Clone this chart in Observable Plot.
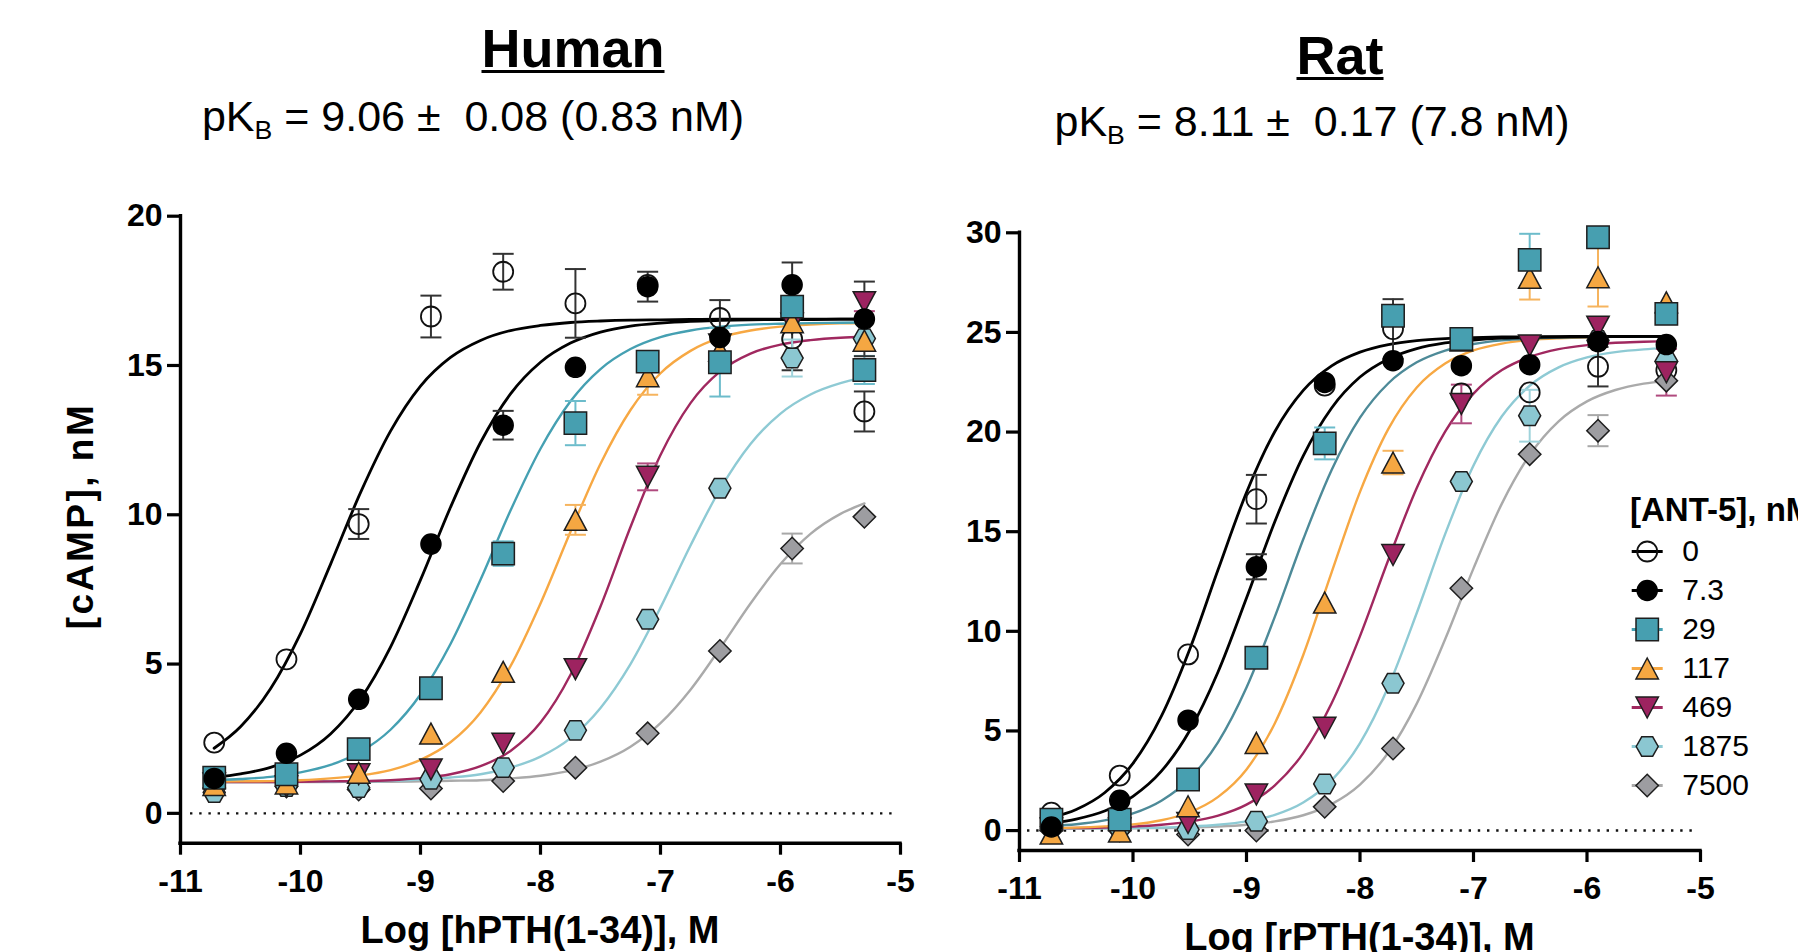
<!DOCTYPE html>
<html>
<head>
<meta charset="utf-8">
<script src="https://cdn.jsdelivr.net/npm/d3@7"></script>
<script src="https://cdn.jsdelivr.net/npm/@observablehq/plot@0.6"></script>
<style>
  html,body{margin:0;padding:0;background:#fff;}
  #root{position:relative;width:1798px;height:952px;overflow:hidden;background:#fff;font-family:"Liberation Sans",Arial,Helvetica,sans-serif;color:#000;}
  #root svg{position:absolute;overflow:visible;background:transparent;max-width:none;}
  .t{position:absolute;white-space:pre;line-height:1;}
  .sub{font-size:62%;vertical-align:-8px;}
</style>
</head>
<body>
<div id="root"></div>
<script>
// ---------- DATA ----------
const seriesLabels = ["0", "7.3", "29", "117", "469", "1875", "7500"];   // [ANT-5], nM
const concLog = [-10.719, -10.117, -9.515, -8.913, -8.311, -7.709, -7.107, -6.505, -5.903, -5.301];
const xTicks = [-11, -10, -9, -8, -7, -6, -5];
const xDomain = [-11, -5];
const humanYTicks = [0, 5, 10, 15, 20];
const humanYDomain = [-1, 20];
const ratYTicks = [0, 5, 10, 15, 20, 25, 30];
const ratYDomain = [-1, 30];

// Human: mean [cAMP] (nM)
const human_0    = [2.37, 5.16, 9.69, 16.64, 18.14, 17.08, 17.70, 16.59, 15.89, 13.46];
const human_7_3  = [1.17, 2.01, 3.82, 9.02, 13.00, 14.94, 17.64, 15.94, 17.70, 16.56];
const human_29   = [1.19, 1.31, 2.15, 4.19, 8.70, 13.07, 15.13, 15.11, 16.97, 14.85];
const human_117  = [0.95, 1.00, 1.36, 2.67, 4.74, 9.83, 14.64, 15.50, 16.45, 15.83];
const human_469  = [1.00, 0.90, 1.31, 1.47, 2.33, 4.83, 11.27, 15.70, 16.40, 17.12];
const human_1875 = [0.70, 0.90, 0.86, 1.14, 1.53, 2.78, 6.50, 10.89, 15.25, 15.90];
const human_7500 = [0.85, 0.90, 0.80, 0.83, 1.08, 1.53, 2.68, 5.44, 8.87, 9.93];
// Human: SEM
const human_0_sem    = [0, 0, 0.50, 0.70, 0.60, 1.15, 0, 0.60, 1.05, 0.67];
const human_7_3_sem  = [0, 0, 0, 0, 0.48, 0, 0.50, 0, 0.75, 1.25];
const human_29_sem   = [0, 0, 0, 0, 0.41, 0.74, 0, 1.15, 0.30, 0.47];
const human_117_sem  = [0, 0, 0, 0, 0, 0.50, 0.62, 0, 0, 0];
const human_469_sem  = [0, 0, 0, 0, 0, 0, 0.45, 0, 0, 0.30];
const human_1875_sem = [0, 0, 0, 0, 0, 0, 0, 0, 0.62, 0];
const human_7500_sem = [0, 0, 0, 0, 0, 0, 0, 0, 0.50, 0];

// Rat: mean [cAMP] (nM)
const rat_0    = [0.90, 2.76, 8.84, 16.63, 22.33, 25.17, 21.94, 21.99, 23.28, 23.10];
const rat_7_3  = [0.18, 1.52, 5.54, 13.24, 22.49, 23.58, 23.33, 23.38, 24.54, 24.39];
const rat_29   = [0.55, 0.55, 2.56, 8.67, 19.43, 25.84, 24.67, 28.64, 29.78, 25.93];
const rat_117  = [-0.15, -0.05, 1.22, 4.40, 11.44, 18.47, 24.60, 27.74, 27.77, 26.51];
const rat_469  = [0.10, 0.10, 0.38, 1.81, 5.16, 13.83, 21.41, 24.34, 25.29, 23.00];
const rat_1875 = [0.20, 0.10, 0.05, 0.47, 2.34, 7.39, 17.52, 20.82, 24.60, 23.58];
const rat_7500 = [0.00, 0.00, -0.20, 0.00, 1.19, 4.12, 12.16, 18.89, 20.07, 22.58];
// Rat: SEM
const rat_0_sem    = [0, 0, 0, 1.22, 0, 1.50, 0, 0, 0.99, 0];
const rat_7_3_sem  = [0, 0, 0, 0.63, 0, 0, 0, 0, 0, 0];
const rat_29_sem   = [0, 0, 0, 0, 0.80, 0, 0, 1.31, 0, 0.50];
const rat_117_sem  = [0, 0, 0, 0, 0, 0.59, 0, 1.09, 1.47, 0];
const rat_469_sem  = [0, 0, 0, 0, 0, 0, 0.97, 0, 0, 1.17];
const rat_1875_sem = [0, 0, 0, 0, 0, 0, 0, 1.30, 0, 0];
const rat_7500_sem = [0, 0, 0, 0, 0, 0, 0, 0, 0.78, 0];

// Fitted curves at these log concentrations
const fitX = [-10.72, -10.5, -10.25, -10, -9.75, -9.5, -9.25, -9, -8.75, -8.5, -8.25, -8, -7.75, -7.5, -7.25, -7, -6.75, -6.5, -6.25, -6, -5.75, -5.5, -5.3];
const humanFit_0    = [2.18, 2.90, 4.17, 6.02, 8.34, 10.74, 12.80, 14.31, 15.27, 15.84, 16.17, 16.34, 16.44, 16.49, 16.52, 16.53, 16.54, 16.55, 16.55, 16.55, 16.55, 16.55, 16.55];
const humanFit_7_3  = [1.20, 1.32, 1.54, 1.95, 2.66, 3.83, 5.57, 7.82, 10.25, 12.42, 14.05, 15.11, 15.75, 16.12, 16.32, 16.42, 16.48, 16.51, 16.53, 16.54, 16.54, 16.55, 16.55];
const humanFit_29   = [1.11, 1.15, 1.22, 1.37, 1.62, 2.06, 2.80, 3.98, 5.67, 7.82, 10.14, 12.21, 13.80, 14.88, 15.55, 15.95, 16.17, 16.30, 16.37, 16.40, 16.42, 16.43, 16.44];
const humanFit_117  = [1.06, 1.07, 1.08, 1.11, 1.17, 1.27, 1.45, 1.79, 2.38, 3.38, 4.93, 7.03, 9.43, 11.71, 13.51, 14.74, 15.49, 15.93, 16.17, 16.30, 16.37, 16.41, 16.42];
const humanFit_469  = [1.05, 1.05, 1.05, 1.06, 1.07, 1.08, 1.11, 1.18, 1.31, 1.58, 2.09, 3.04, 4.64, 6.93, 9.59, 12.00, 13.74, 14.81, 15.40, 15.70, 15.85, 15.93, 15.96];
const humanFit_1875 = [1.05, 1.05, 1.05, 1.06, 1.06, 1.07, 1.09, 1.13, 1.20, 1.31, 1.53, 1.90, 2.52, 3.53, 5.00, 6.89, 8.97, 10.88, 12.37, 13.39, 14.03, 14.41, 14.60];
const humanFit_7500 = [1.05, 1.05, 1.05, 1.05, 1.05, 1.06, 1.06, 1.07, 1.09, 1.11, 1.17, 1.26, 1.43, 1.73, 2.23, 3.02, 4.14, 5.55, 7.03, 8.35, 9.36, 10.03, 10.38];

const ratFit_0    = [0.65, 1.06, 1.90, 3.37, 5.74, 9.10, 13.10, 16.97, 20.03, 22.09, 23.32, 24.01, 24.39, 24.59, 24.69, 24.74, 24.77, 24.78, 24.79, 24.80, 24.80, 24.80, 24.80];
const ratFit_7_3  = [0.38, 0.58, 0.98, 1.72, 2.98, 5.02, 7.97, 11.67, 15.51, 18.81, 21.21, 22.76, 23.67, 24.19, 24.47, 24.62, 24.71, 24.75, 24.77, 24.78, 24.79, 24.80, 24.80];
const ratFit_29   = [0.23, 0.32, 0.51, 0.86, 1.50, 2.61, 4.44, 7.18, 10.74, 14.62, 18.10, 20.72, 22.45, 23.50, 24.09, 24.42, 24.60, 24.69, 24.74, 24.77, 24.78, 24.79, 24.80];
const ratFit_117  = [0.13, 0.15, 0.21, 0.31, 0.52, 0.92, 1.69, 3.07, 5.39, 8.81, 12.96, 17.00, 20.16, 22.24, 23.44, 24.10, 24.44, 24.62, 24.71, 24.76, 24.78, 24.79, 24.80];
const ratFit_469  = [0.12, 0.13, 0.15, 0.20, 0.29, 0.45, 0.75, 1.30, 2.27, 3.89, 6.39, 9.76, 13.59, 17.19, 20.02, 21.93, 23.11, 23.78, 24.16, 24.36, 24.48, 24.53, 24.56];
const ratFit_1875 = [0.10, 0.11, 0.11, 0.13, 0.15, 0.20, 0.29, 0.46, 0.79, 1.41, 2.52, 4.39, 7.23, 10.92, 14.88, 18.32, 20.79, 22.35, 23.25, 23.75, 24.01, 24.15, 24.21];
const ratFit_7500 = [0.10, 0.10, 0.11, 0.12, 0.13, 0.15, 0.20, 0.29, 0.46, 0.77, 1.33, 2.31, 3.92, 6.37, 9.60, 13.16, 16.41, 18.89, 20.54, 21.54, 22.11, 22.43, 22.57];

// ---------- STYLES ----------
const FONT = '"Liberation Sans", Arial, Helvetica, sans-serif';
function sym(fn) { return {draw(ctx, size) { fn(ctx, Math.sqrt(size / Math.PI)); }}; }
const SYM = {
  circle: sym((c, r) => { c.moveTo(r, 0); c.arc(0, 0, r, 0, 2 * Math.PI); c.closePath(); }),
  square: sym((c, r) => { const h = r * 1.12; c.rect(-h, -h, 2 * h, 2 * h); }),
  triUp: sym((c, r) => { const w = r * 1.12, h = r * 1.05; c.moveTo(0, -h); c.lineTo(w, h); c.lineTo(-w, h); c.closePath(); }),
  triDown: sym((c, r) => { const w = r * 1.12, h = r * 1.05; c.moveTo(0, h); c.lineTo(w, -h); c.lineTo(-w, -h); c.closePath(); }),
  hexagon: sym((c, r) => { const w = r * 1.1, h = r * 0.97; c.moveTo(-w, 0); c.lineTo(-w / 2, -h); c.lineTo(w / 2, -h); c.lineTo(w, 0); c.lineTo(w / 2, h); c.lineTo(-w / 2, h); c.closePath(); }),
  diamond: sym((c, r) => { const h = r * 1.12; c.moveTo(0, -h); c.lineTo(h, 0); c.lineTo(0, h); c.lineTo(-h, 0); c.closePath(); }),
  cap: sym((c, r) => { c.moveTo(-r * 1.05, 0); c.lineTo(r * 1.05, 0); }),
  seg: sym((c, r) => { c.moveTo(-r * 1.55, 0); c.lineTo(r * 1.55, 0); })
};
const seriesStyle = [
  {shape: SYM.circle,  fill: "none",    stroke: "#111", line: "#000",    lineRat: "#000",    err: "#333"},
  {shape: SYM.circle,  fill: "#000",    stroke: "#000", line: "#000",    lineRat: "#000",    err: "#333"},
  {shape: SYM.square,  fill: "#479fb0", stroke: "#1e1e1e", line: "#45a0b2", lineRat: "#4d8a98", err: "#6cbccb"},
  {shape: SYM.triUp,   fill: "#f5a742", stroke: "#1e1e1e", line: "#f7a843", lineRat: "#f7a843", err: "#f6b45e"},
  {shape: SYM.triDown, fill: "#9d2360", stroke: "#1e1e1e", line: "#a0285f", lineRat: "#a0285f", err: "#b04a7e"},
  {shape: SYM.hexagon, fill: "#8bc7d1", stroke: "#1e1e1e", line: "#8ecad4", lineRat: "#8ecad4", err: "#9fd3db"},
  {shape: SYM.diamond, fill: "#9d9da1", stroke: "#1e1e1e", line: "#aaaaaa", lineRat: "#aaaaaa", err: "#a8a8a8"}
];
const markerOrder = [0, 6, 5, 4, 3, 2, 1];
const lineOrder = [6, 5, 4, 3, 2, 1, 0];

const root = document.getElementById("root");

function panel(o) {
  const marks = [];
  marks.push(Plot.ruleY([0], {stroke: "#111", strokeWidth: 2.4, strokeDasharray: "2.4 6.8", insetLeft: o.zeroInset[0], insetRight: o.zeroInset[1]}));
  for (const k of lineOrder) {
    const rows = fitX.map((x, i) => ({x, y: o.fits[k][i]}));
    marks.push(Plot.line(rows, {x: "x", y: "y", curve: "monotone-x", stroke: seriesStyle[k][o.lineKey], strokeWidth: k < 2 ? 2.8 : 2.4}));
  }
  for (const k of markerOrder) {
    const rows = concLog.map((x, i) => ({x, y: o.means[k][i], e: o.sems[k][i]})).filter(d => d.e > 0);
    const st = seriesStyle[k];
    marks.push(Plot.ruleX(rows, {x: "x", y1: d => d.y - d.e, y2: d => d.y + d.e, stroke: st.err, strokeWidth: 2}));
    marks.push(Plot.dot(rows, {x: "x", y: d => d.y + d.e, symbol: SYM.cap, r: 10, fill: "none", stroke: st.err, strokeWidth: 2}));
    marks.push(Plot.dot(rows, {x: "x", y: d => d.y - d.e, symbol: SYM.cap, r: 10, fill: "none", stroke: st.err, strokeWidth: 2}));
  }
  for (const k of markerOrder) {
    const rows = concLog.map((x, i) => ({x, y: o.means[k][i]}));
    const st = seriesStyle[k];
    marks.push(Plot.dot(rows, {x: "x", y: "y", symbol: st.shape, r: 10, fill: st.fill, stroke: st.stroke, strokeWidth: k === 0 ? 1.8 : 1.5}));
  }
  marks.push(Plot.ruleX([xDomain[0]], {y1: o.yDomain[0], y2: o.yDomain[1], stroke: "#000", strokeWidth: 3.4, strokeLinecap: "square"}));
  marks.push(Plot.ruleY([o.yDomain[0]], {x1: xDomain[0], x2: xDomain[1], stroke: "#000", strokeWidth: 3.4, strokeLinecap: "square"}));
  marks.push(Plot.axisX({ticks: xTicks, tickSize: 12, tickPadding: 14, fontSize: 32, fontWeight: "bold", fontFamily: FONT, strokeWidth: 3.2, tickFormat: d => String(d), label: null}));
  marks.push(Plot.axisY({ticks: o.yTicks, tickSize: 13, tickPadding: 5, fontSize: 32, fontWeight: "bold", fontFamily: FONT, strokeWidth: 3.2, tickFormat: d => String(d), label: null}));
  const svg = Plot.plot({
    width: o.width, height: o.height,
    marginLeft: o.mL, marginRight: o.mR, marginTop: o.mT, marginBottom: o.mB,
    x: {domain: xDomain, label: null},
    y: {domain: o.yDomain, label: null},
    style: {background: "transparent", fontFamily: FONT, overflow: "visible"},
    marks
  });
  svg.style.left = o.left + "px";
  svg.style.top = o.top + "px";
  root.appendChild(svg);
}

panel({
  means: [human_0, human_7_3, human_29, human_117, human_469, human_1875, human_7500],
  sems: [human_0_sem, human_7_3_sem, human_29_sem, human_117_sem, human_469_sem, human_1875_sem, human_7500_sem],
  fits: [humanFit_0, humanFit_7_3, humanFit_29, humanFit_117, humanFit_469, humanFit_1875, humanFit_7500],
  yDomain: humanYDomain, yTicks: humanYTicks, lineKey: "line",
  left: 0, top: 0, width: 940, height: 952, mL: 180, mR: 40, mT: 215.7, mB: 109.3, zeroInset: [10, 5]
});
panel({
  means: [rat_0, rat_7_3, rat_29, rat_117, rat_469, rat_1875, rat_7500],
  sems: [rat_0_sem, rat_7_3_sem, rat_29_sem, rat_117_sem, rat_469_sem, rat_1875_sem, rat_7500_sem],
  fits: [ratFit_0, ratFit_7_3, ratFit_29, ratFit_117, ratFit_469, ratFit_1875, ratFit_7500],
  yDomain: ratYDomain, yTicks: ratYTicks, lineKey: "lineRat",
  left: 940, top: 0, width: 858, height: 952, mL: 79, mR: 98, mT: 232.3, mB: 102, zeroInset: [8, 5]
});

// ---------- LEGEND ----------
(function legend() {
  const rows = seriesLabels.map((label, k) => ({label, k}));
  const marks = [];
  for (const k of [0, 1, 2, 3, 4, 5, 6]) {
    const st = seriesStyle[k];
    marks.push(Plot.dot([rows[k]], {y: "label", frameAnchor: "left", dx: 26.7, symbol: SYM.seg, r: 10, fill: "none", stroke: st.line, strokeWidth: 3}));
    marks.push(Plot.dot([rows[k]], {y: "label", frameAnchor: "left", dx: 26.7, symbol: st.shape, r: 10, fill: st.fill, stroke: st.stroke, strokeWidth: k === 0 ? 1.8 : 1.5}));
  }
  marks.push(Plot.text(rows, {y: "label", text: "label", frameAnchor: "left", dx: 61.7, textAnchor: "start", lineAnchor: "middle", fontSize: 30, fontFamily: FONT, fill: "#000"}));
  const svg = Plot.plot({
    width: 178, height: 330, marginLeft: 0, marginRight: 0, marginTop: 29.1, marginBottom: 22.3,
    y: {type: "point", domain: seriesLabels, padding: 0.5, axis: null},
    style: {background: "transparent", fontFamily: FONT, overflow: "visible"},
    marks
  });
  svg.style.left = "1620px";
  svg.style.top = "500px";
  root.appendChild(svg);
})();

// ---------- TEXT ----------
function addText(html, {x, baseline, size, weight = "normal", anchor = "middle", css = ""}) {
  const el = document.createElement("div");
  el.className = "t";
  el.innerHTML = html;
  el.style.fontSize = size + "px";
  el.style.fontWeight = weight;
  el.style.top = (baseline - 0.8465 * size) + "px";
  el.style.left = x + "px";
  if (anchor === "middle") el.style.transform = "translateX(-50%)";
  if (css) el.style.cssText += css;
  root.appendChild(el);
  return el;
}
addText("Human", {x: 573, baseline: 66.7, size: 54, weight: "bold", css: "text-decoration:underline;text-decoration-thickness:2.6px;text-underline-offset:3px;"});
addText('pK<span class="sub">B</span> = 9.06 ±  0.08 (0.83 nM)', {x: 473, baseline: 131, size: 43});
addText("Rat", {x: 1340, baseline: 73.5, size: 54, weight: "bold", css: "text-decoration:underline;text-decoration-thickness:2.6px;text-underline-offset:3px;"});
addText('pK<span class="sub">B</span> = 8.11 ±  0.17 (7.8 nM)', {x: 1312, baseline: 136, size: 43});
addText("Log [hPTH(1-34)], M", {x: 540, baseline: 942.7, size: 38, weight: "bold"});
addText("Log [rPTH(1-34)], M", {x: 1359.5, baseline: 950, size: 38, weight: "bold"});
addText("[ANT-5], nM", {x: 1630, baseline: 520.7, size: 33, weight: "bold", anchor: "start"});
// rotated y-axis title
(function () {
  const size = 37;
  const el = document.createElement("div");
  el.className = "t";
  el.textContent = "[cAMP], nM";
  el.style.fontSize = size + "px";
  el.style.fontWeight = "bold";
  el.style.letterSpacing = "2.5px";
  el.style.left = (93.3 - 0.3465 * size) + "px";
  el.style.top = "515.5px";
  el.style.transform = "translate(-50%,-50%) rotate(-90deg)";
  root.appendChild(el);
})();
</script>
</body>
</html>
